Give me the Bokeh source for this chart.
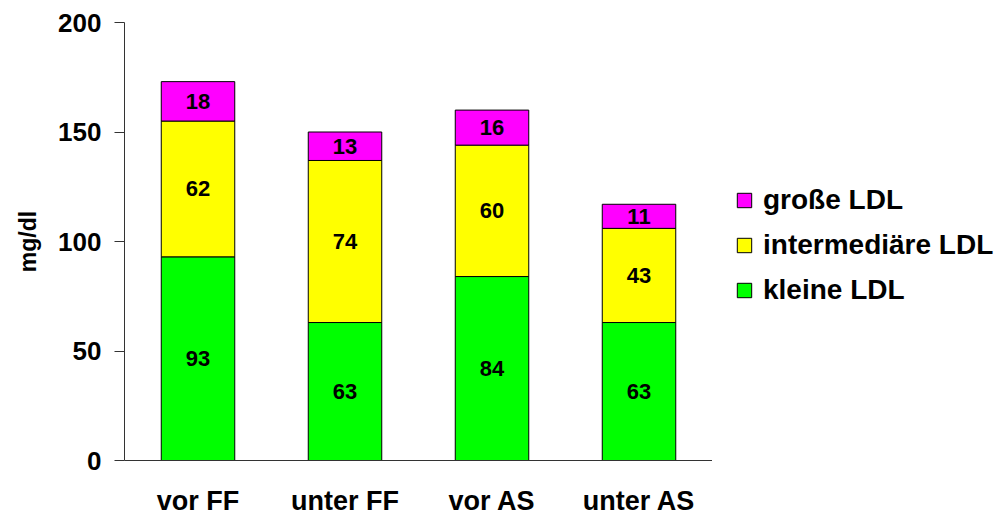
from bokeh.plotting import figure
from bokeh.layouts import row
from bokeh.models import ColumnDataSource, Legend, LegendItem, FactorRange
from bokeh.core.properties import value
from bokeh.embed import file_html
from bokeh.resources import INLINE

categories = ["vor FF", "unter FF", "vor AS", "unter AS"]
kleine = [93, 63, 84, 63]
intermediaere = [62, 74, 60, 43]
grosse = [18, 13, 16, 11]
series_names = ["kleine LDL", "intermediäre LDL", "große LDL"]
colors = ["#00FF00", "#FFFF00", "#FF00FF"]
y_ticks = [0, 50, 100, 150, 200]

FONT = "Liberation Sans"
H = 512

src = ColumnDataSource(dict(cat=categories, kleine=kleine, inter=intermediaere, gross=grosse))

p = figure(x_range=FactorRange(*categories, range_padding=0), y_range=(0, 200),
           frame_width=588, frame_height=438, width=712, height=H,
           min_border_left=124, min_border_top=22, min_border_bottom=52, min_border_right=0,
           output_backend="svg", toolbar_location=None)

cols = ["kleine", "inter", "gross"]
rs = p.vbar_stack(cols, x="cat", width=0.5, source=src,
                  fill_color=colors, line_color="black", line_width=1)

# segment labels
xs, ys, ts = [], [], []
for i, c in enumerate(categories):
    base = 0
    for vals in (kleine, intermediaere, grosse):
        xs.append(c)
        ys.append(base + vals[i] / 2)
        ts.append(str(vals[i]))
        base += vals[i]
p.text(x=xs, y=ys, text=ts, text_font=value(FONT), text_font_style="bold",
       text_font_size="22px", text_align="center", text_baseline="middle", text_color="black")

p.xgrid.visible = False
p.ygrid.visible = False
p.outline_line_color = None

p.yaxis.ticker = y_ticks
p.yaxis.axis_label = "mg/dl"
p.yaxis.axis_label_text_font = FONT
p.yaxis.axis_label_text_font_style = "bold"
p.yaxis.axis_label_text_font_size = "23px"
p.yaxis.axis_label_text_color = "black"
p.yaxis.axis_label_standoff = 14
p.yaxis.major_label_text_font = FONT
p.yaxis.major_label_text_font_style = "bold"
p.yaxis.major_label_text_font_size = "26px"
p.yaxis.major_label_text_color = "black"
p.yaxis.major_label_standoff = 13
p.yaxis.major_tick_out = 10
p.yaxis.major_tick_in = 0
p.yaxis.minor_tick_line_color = None
p.yaxis.axis_line_color = "#333333"
p.yaxis.major_tick_line_color = "#333333"

p.xaxis.major_label_text_font = FONT
p.xaxis.major_label_text_font_style = "bold"
p.xaxis.major_label_text_font_size = "27px"
p.xaxis.major_label_text_color = "black"
p.xaxis.major_label_standoff = 19
p.xaxis.major_tick_line_color = None
p.xaxis.axis_line_color = "#333333"

# legend panel (separate figure to the right)
lg = figure(width=1000 - 712, height=H, x_range=(0, 1), y_range=(0, 1),
            min_border_left=0, min_border_right=0, min_border_top=22, min_border_bottom=52,
            output_backend="svg", toolbar_location=None)
lg.axis.visible = False
lg.xgrid.visible = False
lg.ygrid.visible = False
lg.outline_line_color = None
proxies = [lg.vbar(x=0, top=col, width=0.1, source=src, fill_color=c, line_color="black",
                   line_width=1, visible=False)
           for col, c in zip(cols, colors)]

legend = Legend(items=[LegendItem(label=series_names[i], renderers=[proxies[i]]) for i in (2, 1, 0)],
                location=(23, 148), margin=0, padding=0, spacing=13,
                glyph_width=18, glyph_height=18, label_standoff=10,
                label_text_font=FONT, label_text_font_style="bold", label_text_font_size="28px",
                label_text_color="black", inactive_fill_alpha=0,
                border_line_color=None, background_fill_alpha=0)
lg.add_layout(legend)

layout = row(p, lg, spacing=0)
open("out.html", "w").write(file_html(layout, INLINE))
